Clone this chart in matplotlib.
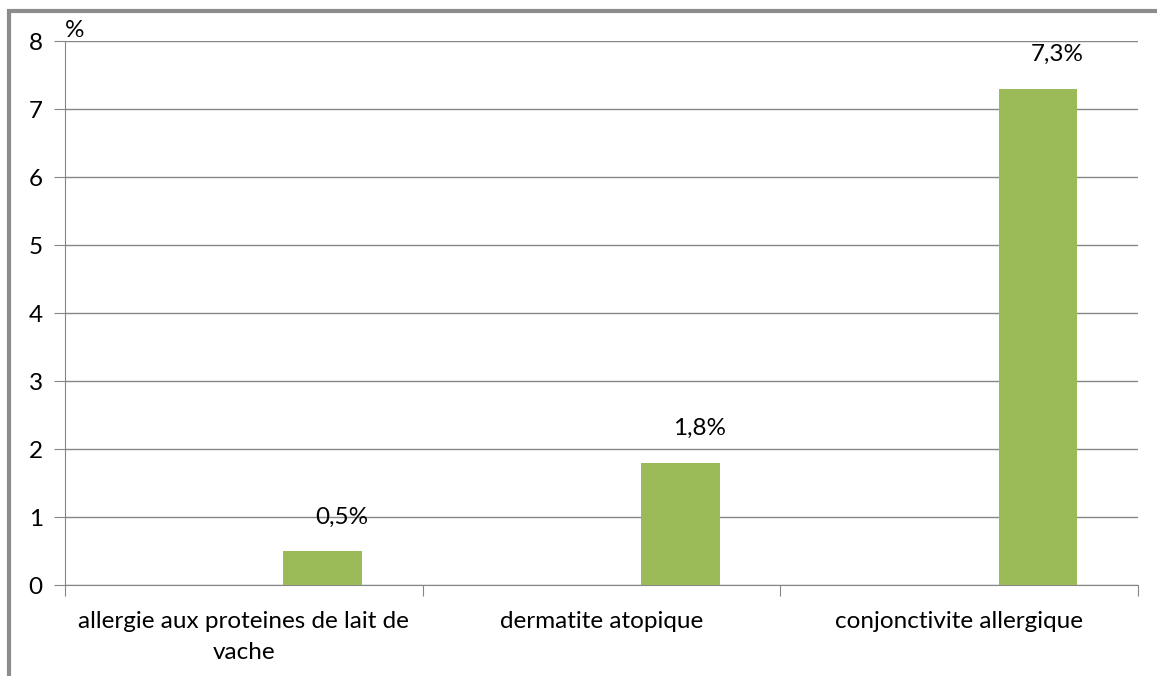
import matplotlib.pyplot as plt
from matplotlib.patches import Rectangle

categories = ["allergie aux proteines de lait de\nvache", "dermatite atopique", "conjonctivite allergique"]
values = [0.5, 1.8, 7.3]
value_labels = ["0,5%", "1,8%", "7,3%"]
y_ticks = [0, 1, 2, 3, 4, 5, 6, 7, 8]

plt.rcParams['font.family'] = ['Lato', 'DejaVu Sans']
grey = '#868686'
green = '#9BBB59'
fs = 17.5

fig = plt.figure(figsize=(11.57, 6.76), dpi=100)
W, H = 1157, 676
ax = fig.add_axes([65 / W, 1 - 585 / H, (1138 - 65) / W, (585 - 41) / H])

# outer frame of the chart object
fig.patches.append(Rectangle((9 / W, -0.1), 1.2, 1 - 11 / H + 0.1, transform=fig.transFigure,
                             fill=False, edgecolor='#8c8c8c', linewidth=3))

x = list(range(len(categories)))
xs = [i + 0.22 for i in x]
ax.bar(xs, values, width=0.22, color=green, zorder=3)
for xi, v, lab in zip(xs, values, value_labels):
    ax.annotate(lab, (xi, v), xytext=(14, 17), textcoords='offset points',
                ha='center', va='bottom', fontsize=fs)

ax.set_xlim(-0.5, 2.5)
ax.set_ylim(0, 8)
ax.set_yticks(y_ticks)
ax.yaxis.grid(True, color=grey, linewidth=1)
ax.set_axisbelow(True)
ax.tick_params(axis='y', length=8, color=grey, labelsize=fs, pad=8)
ax.set_xticks([-0.5, 0.5, 1.5, 2.5])
ax.set_xticklabels([])
ax.tick_params(axis='x', length=8, color=grey, direction='out')
for i, c in enumerate(categories):
    ax.text(i, -0.38, c, ha='center', va='top', fontsize=fs, linespacing=1.6)

for s in ['top', 'right']:
    ax.spines[s].set_visible(False)
for s in ['left', 'bottom']:
    ax.spines[s].set_color(grey)

ax.text(0, 8.0, "%", transform=ax.get_yaxis_transform(), fontsize=fs, va='bottom', ha='left')

fig.savefig('out.png', dpi=100)
